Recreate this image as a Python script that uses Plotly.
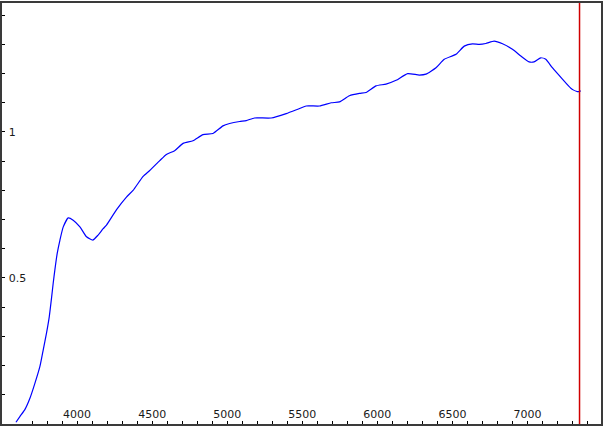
import plotly.graph_objects as go

wavelength = [3593, 3620, 3653, 3686, 3719, 3753, 3775, 3797, 3815, 3831, 3841, 3852, 3868, 3886, 3908,
              3941, 3974, 4019, 4063, 4105, 4140, 4174, 4196, 4263, 4329, 4373, 4440, 4484,
              4551, 4595, 4650, 4706, 4772, 4839, 4905, 4972, 5016, 5083, 5127, 5182, 5293,
              5393, 5470, 5526, 5615, 5693, 5748, 5814, 5881, 5925, 5992, 6058, 6125, 6202,
              6280, 6324, 6391, 6446, 6524, 6579, 6634, 6679, 6723, 6778, 6834, 6900, 6956,
              7011, 7044, 7089, 7122, 7166, 7233, 7289, 7333, 7355]
flux = [0.006, 0.026, 0.050, 0.088, 0.139, 0.198, 0.255, 0.313, 0.368, 0.436, 0.482, 0.527, 0.585, 0.630, 0.675,
        0.706, 0.698, 0.675, 0.641, 0.630, 0.647, 0.669, 0.681, 0.734, 0.777, 0.800, 0.848, 0.868,
        0.902, 0.923, 0.936, 0.961, 0.970, 0.991, 0.995, 1.021, 1.029, 1.036, 1.039, 1.048, 1.048,
        1.063, 1.078, 1.089, 1.089, 1.100, 1.103, 1.124, 1.132, 1.135, 1.158, 1.164, 1.177, 1.200,
        1.195, 1.198, 1.220, 1.249, 1.266, 1.294, 1.302, 1.300, 1.303, 1.311, 1.302, 1.283, 1.260,
        1.240, 1.240, 1.254, 1.249, 1.220, 1.181, 1.150, 1.138, 1.141]

marker_x = 7347
x_ticks = [4000, 4500, 5000, 5500, 6000, 6500, 7000]
y_ticks = [0.5, 1]
x_range = [3500, 7490]
y_range = [0, 1.4417]

fig = go.Figure()
fig.add_trace(go.Scatter(x=wavelength, y=flux, mode="lines",
                         line=dict(color="#0000FF", width=1.2, shape="spline", smoothing=0.5),
                         showlegend=False, hoverinfo="skip"))
fig.add_shape(type="line", xref="x", yref="paper", x0=marker_x, x1=marker_x, y0=0, y1=1,
              line=dict(color="#D00000", width=1.5))

axis_font = dict(family="DejaVu Sans", size=11, color="#1a1a1a")
fig.update_xaxes(range=x_range, tickvals=x_ticks, ticktext=[str(v) for v in x_ticks],
                 ticks="inside", ticklen=3, tickcolor="#000", ticklabelposition="inside",
                 tickfont=axis_font, showgrid=False, zeroline=False,
                 showline=True, mirror=True, linecolor="#3a3a3a", linewidth=2,
                 minor=dict(dtick=100, tick0=0, ticks="inside", ticklen=3, tickcolor="#000", showgrid=False))
fig.update_yaxes(range=y_range, tickvals=y_ticks, ticktext=["0.5", "1"],
                 ticks="inside", ticklen=3, tickcolor="#000", ticklabelposition="inside",
                 ticklabelstandoff=3,
                 tickfont=axis_font, showgrid=False, zeroline=False,
                 showline=True, mirror=True, linecolor="#3a3a3a", linewidth=2,
                 minor=dict(dtick=0.1, tick0=0, ticks="inside", ticklen=3, tickcolor="#000", showgrid=False))
fig.update_layout(width=604, height=426, margin=dict(l=2, r=2, t=1, b=2),
                  paper_bgcolor="white", plot_bgcolor="white")
fig.write_html("out.html", config={"displayModeBar": False},
               post_script="document.body.style.margin='0';document.body.style.overflow='hidden';")
